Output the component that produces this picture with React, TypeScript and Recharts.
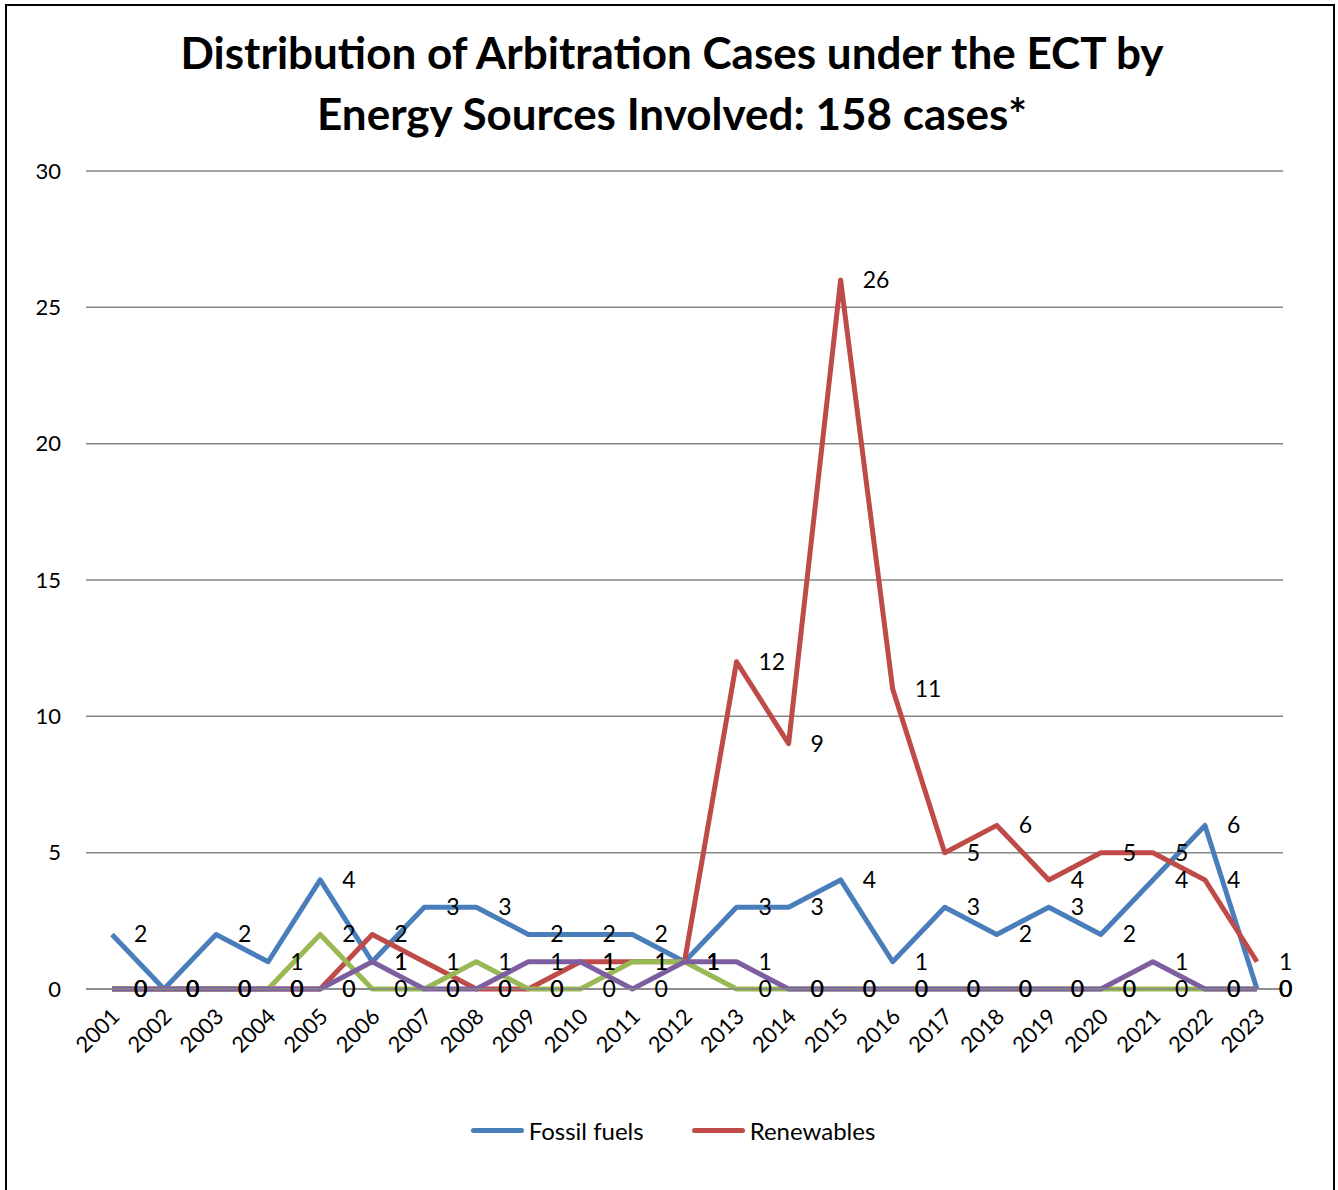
import React from 'react'
import { CartesianGrid, Legend, Line, LineChart, XAxis, YAxis } from 'recharts'

const years = [
  '2001', '2002', '2003', '2004', '2005', '2006', '2007', '2008', '2009', '2010', '2011', '2012',
  '2013', '2014', '2015', '2016', '2017', '2018', '2019', '2020', '2021', '2022', '2023',
]
const fossilFuels = [2, 0, 2, 1, 4, 1, 3, 3, 2, 2, 2, 1, 3, 3, 4, 1, 3, 2, 3, 2, 4, 6, 0]
const renewables = [0, 0, 0, 0, 0, 2, 1, 0, 0, 1, 1, 1, 12, 9, 26, 11, 5, 6, 4, 5, 5, 4, 1]
const greenSeries = [0, 0, 0, 0, 2, 0, 0, 1, 0, 0, 1, 1, 0, 0, 0, 0, 0, 0, 0, 0, 0, 0, 0]
const purpleSeries = [0, 0, 0, 0, 0, 1, 0, 0, 1, 1, 0, 1, 1, 0, 0, 0, 0, 0, 0, 0, 1, 0, 0]
const yTicks = [0, 5, 10, 15, 20, 25, 30]

const data = years.map((year, i) => ({
  year,
  fossil: fossilFuels[i],
  renew: renewables[i],
  green: greenSeries[i],
  purple: purpleSeries[i],
}))

const FONT = 'Lato, "Open Sans", sans-serif'

function valueLabel(props: any) {
  const { x, y, value } = props
  return (
    <text x={x + 22} y={y} dy={8} fontSize={23} fontFamily={FONT} fill="#000">
      {value}
    </text>
  )
}

function yearTick(props: any) {
  const { x, y, payload } = props
  return (
    <g transform={`translate(${x + 9},${y + 21})`}>
      <text transform="rotate(-45)" textAnchor="end" fontSize={22} fontFamily={FONT} fill="#000">
        {payload.value}
      </text>
    </g>
  )
}

function legendContent(props: any) {
  const items = (props.payload || []).filter((p: any) => p.type !== 'none')
  return (
    <div style={{ display: 'flex', justifyContent: 'center', gap: 48, fontFamily: FONT, fontSize: 24 }}>
      {items.map((p: any) => (
        <div key={p.value} style={{ display: 'flex', alignItems: 'center' }}>
          <span style={{ display: 'inline-block', width: 53, height: 5, borderRadius: 3, background: p.color, marginRight: 5 }} />
          <span>{p.value}</span>
        </div>
      ))}
    </div>
  )
}

export default function App() {
  return (
    <div style={{ position: 'absolute', left: 0, top: 0, width: 1338, height: 1190, overflow: 'hidden', background: '#fff' }}>
      <div
        style={{
          position: 'absolute', left: 5, top: 4, width: 1330, height: 1220,
          border: '2px solid #000', boxSizing: 'border-box',
        }}
      />
      <div
        style={{
          position: 'absolute', left: 0, top: 22, width: 1344, textAlign: 'center',
          fontFamily: FONT, fontWeight: 700, fontSize: 44, lineHeight: '61px', color: '#000',
        }}
      >
        Distribution of Arbitration Cases under the ECT by
        <br />
        Energy Sources Involved: 158 cases*
      </div>
      <div style={{ position: 'absolute', left: 0, top: 0 }}>
        <LineChart width={1338} height={1190} data={data} margin={{ top: 171, right: 55, left: 26, bottom: 92 }}>
          <CartesianGrid vertical={false} stroke="#868686" strokeWidth={1.5} />
          <XAxis
            dataKey="year"
            axisLine={{ stroke: '#868686', strokeWidth: 1.5 }}
            tickLine={false}
            tick={yearTick}
            interval={0}
            height={80}
            padding={{ left: 26, right: 26 }}
          />
          <YAxis
            domain={[0, 30]}
            ticks={yTicks}
            axisLine={false}
            tickLine={false}
            tickSize={0}
            tickMargin={25}
            width={60}
            tick={{ fontSize: 22, fontFamily: FONT, fill: '#000' }}
          />
          <Legend
            verticalAlign="bottom"
            content={legendContent}
            wrapperStyle={{ position: 'absolute', top: 1116, left: 4, width: 1338 }}
          />
          <Line dataKey="fossil" name="Fossil fuels" stroke="#4A7EBB" strokeWidth={5} dot={false} strokeLinejoin="round" isAnimationActive={false} label={valueLabel} />
          <Line dataKey="renew" name="Renewables" stroke="#BE4B48" strokeWidth={5} dot={false} strokeLinejoin="round" isAnimationActive={false} label={valueLabel} />
          <Line dataKey="green" legendType="none" stroke="#98B954" strokeWidth={5} dot={false} strokeLinejoin="round" isAnimationActive={false} label={valueLabel} />
          <Line dataKey="purple" legendType="none" stroke="#7D5FA0" strokeWidth={5} dot={false} strokeLinejoin="round" isAnimationActive={false} label={valueLabel} />
        </LineChart>
      </div>
    </div>
  )
}
